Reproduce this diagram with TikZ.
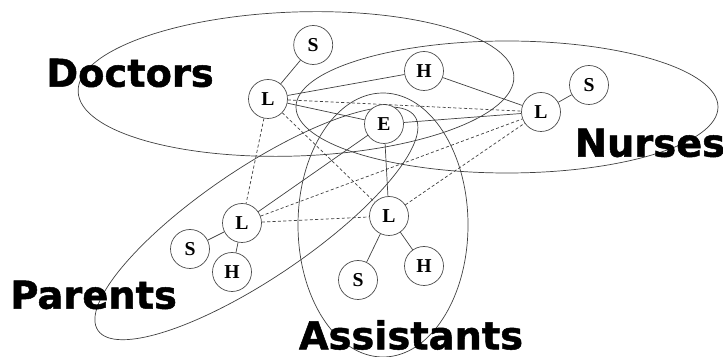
\documentclass[tikz,border=0pt]{standalone}
\usepackage{fontspec}
\setmainfont{Liberation Serif}
\newfontfamily\groupfont{DejaVu Sans Bold}[FakeBold=1.3]
\usetikzlibrary{positioning}

\begin{document}
\begin{tikzpicture}[
  vertex/.style={circle, draw=black!70, fill=white, line width=.5pt, minimum size=.975cm, inner sep=0pt, font=\fontsize{14}{16}\selectfont\bfseries},
  group/.style={inner sep=0pt, font=\groupfont\fontsize{27.3}{30}\selectfont},
  ring/.style={draw=black!75, line width=.5pt},
  link/.style={draw=black!75, line width=.5pt},
  weak link/.style={draw=black!75, line width=.5pt, dash pattern=on 2.2pt off 1.6pt}
]
\useasboundingbox (0 cm, 0 cm) rectangle (18.075 cm, 8.925 cm);
\draw[ring, rotate around={2:(7.40 cm, 6.825 cm)}] (7.40 cm, 6.825 cm) ellipse (5.45 cm and 1.80 cm);
\draw[ring] (12.675 cm, 6.25 cm) ellipse (5.275 cm and 1.65 cm);
\draw[ring] (9.575 cm, 3.30 cm) ellipse (2.125 cm and 3.30 cm);
\draw[ring, rotate around={34:(6.41 cm, 3.34 cm)}] (6.41 cm, 3.34 cm) ellipse (4.78 cm and 1.38 cm);
\node[vertex] (doc_s) at (7.83 cm, 7.80 cm) {S};
\node[vertex] (doc_l) at (6.70 cm, 6.45 cm) {L};
\node[vertex] (nur_h) at (10.60 cm, 7.15 cm) {H};
\node[vertex] (nur_l) at (13.525 cm, 6.125 cm) {L};
\node[vertex] (nur_s) at (14.725 cm, 6.80 cm) {S};
\node[vertex] (node_e) at (9.60 cm, 5.825 cm) {E};
\node[vertex] (par_l) at (6.05 cm, 3.35 cm) {L};
\node[vertex] (par_s) at (4.75 cm, 2.70 cm) {S};
\node[vertex] (par_h) at (5.80 cm, 2.125 cm) {H};
\node[vertex] (ass_l) at (9.725 cm, 3.525 cm) {L};
\node[vertex] (ass_s) at (8.95 cm, 1.925 cm) {S};
\node[vertex] (ass_h) at (10.60 cm, 2.275 cm) {H};
\draw[link] (doc_l) -- (doc_s);
\draw[link] (doc_l) -- (nur_h);
\draw[link] (doc_l) -- (node_e);
\draw[link] (nur_h) -- (nur_l);
\draw[link] (nur_l) -- (nur_s);
\draw[link] (node_e) -- (nur_l);
\draw[link] (node_e) -- (par_l);
\draw[link] (node_e) -- (ass_l);
\draw[link] (par_l) -- (par_s);
\draw[link] (par_l) -- (par_h);
\draw[link] (ass_l) -- (ass_s);
\draw[link] (ass_l) -- (ass_h);
\draw[weak link] (doc_l) -- (nur_l);
\draw[weak link] (doc_l) -- (par_l);
\draw[weak link] (doc_l) -- (ass_l);
\draw[weak link] (par_l) -- (nur_l);
\draw[weak link] (par_l) -- (ass_l);
\draw[weak link] (ass_l) -- (nur_l);
\node[group] (label_doctors) at (3.25 cm, 7.10 cm) {Doctors};
\node[group] (label_nurses) at (16.25 cm, 5.35 cm) {Nurses};
\node[group] (label_parents) at (2.34 cm, 1.55 cm) {Parents};
\node[group] (label_assistants) at (10.275 cm, 0.55 cm) {Assistants};
\end{tikzpicture}
\end{document}
